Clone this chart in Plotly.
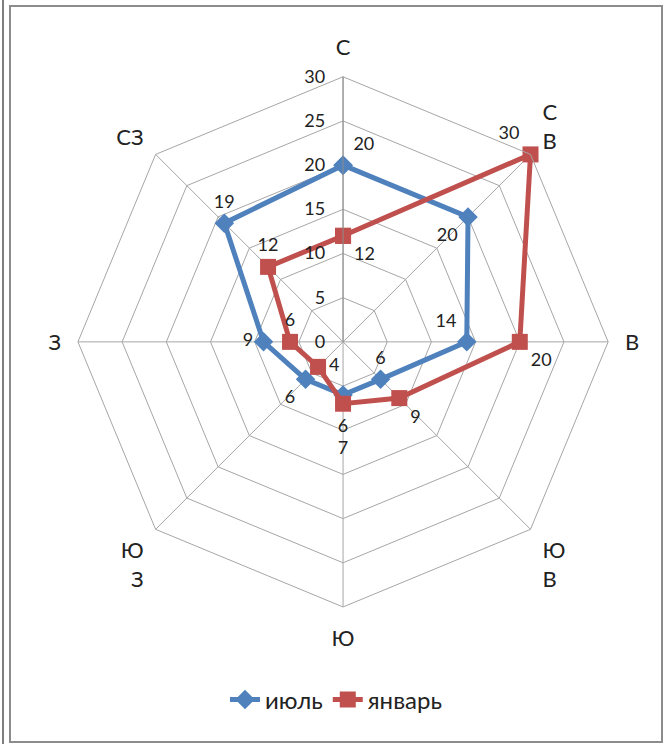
import plotly.graph_objects as go

# wind directions, clockwise from north
directions = ['С', 'СВ', 'В', 'ЮВ', 'Ю', 'ЮЗ', 'З', 'СЗ']
direction_labels = ['С', 'С<br>В', 'В', 'Ю<br>В', 'Ю', 'Ю<br>З', 'З', 'СЗ']

july = [20, 20, 14, 6, 6, 6, 9, 19]
january = [12, 30, 20, 9, 7, 4, 6, 12]

radial_ticks = [0, 5, 10, 15, 20, 25, 30]

july_pos = ['top right', 'bottom left', 'top left', 'top center',
            'bottom center', 'bottom left', 'middle left', 'top center']
jan_pos = ['bottom right', 'top left', 'bottom right', 'bottom right',
           'bottom center', 'middle right', 'top center', 'top center']

BLUE = '#4F81BD'
RED = '#C0504D'
FONT = 'Lato'
LABEL_FONT = dict(size=18, color='#222222', family=FONT)
SOUTH = directions.index('Ю')

# the two labels at the south point are stacked under the january square,
# they are drawn by label-only traces further down
july_text = [str(v) for v in july]
july_text[SOUTH] = ''
jan_text = [str(v) for v in january]
jan_text[SOUTH] = ''

fig = go.Figure()

fig.add_trace(go.Scatterpolar(
    r=july + [july[0]],
    theta=directions + [directions[0]],
    mode='lines+markers+text',
    name='июль',
    line=dict(color=BLUE, width=5),
    marker=dict(symbol='diamond', size=15, color=BLUE),
    text=july_text + [''],
    textposition=july_pos + ['top center'],
    textfont=LABEL_FONT,
))

fig.add_trace(go.Scatterpolar(
    r=january + [january[0]],
    theta=directions + [directions[0]],
    mode='lines+markers+text',
    name='январь',
    line=dict(color=RED, width=5),
    marker=dict(symbol='square', size=16, color=RED),
    text=jan_text + [''],
    textposition=jan_pos + ['top center'],
    textfont=LABEL_FONT,
))

for values, gap in [(july, 36), (january, 58)]:
    fig.add_trace(go.Scatterpolar(
        r=[values[SOUTH]],
        theta=[directions[SOUTH]],
        mode='markers+text',
        marker=dict(size=gap, opacity=0),
        text=[str(values[SOUTH])],
        textposition='bottom center',
        textfont=LABEL_FONT,
        showlegend=False,
        hoverinfo='skip',
    ))

fig.update_layout(
    width=672,
    height=744,
    margin=dict(l=0, r=0, t=0, b=0),
    paper_bgcolor='white',
    plot_bgcolor='white',
    font=dict(family=FONT, size=18, color='#222222'),
    polar=dict(
        domain=dict(x=[0.116, 0.905], y=[0.184, 0.897]),
        bgcolor='white',
        gridshape='linear',
        radialaxis=dict(
            range=[0, 30],
            tickvals=radial_ticks,
            angle=90,
            tickangle=90,
            side='counterclockwise',
            showline=True,
            linecolor='#8c8c8c',
            linewidth=1,
            gridcolor='#a6a6a6',
            gridwidth=1,
            ticks='outside',
            ticklen=11,
            tickcolor='rgba(0,0,0,0)',
            tickfont=dict(size=18, family=FONT),
        ),
        angularaxis=dict(
            direction='clockwise',
            rotation=90,
            categoryorder='array',
            categoryarray=directions,
            tickvals=directions,
            ticktext=direction_labels,
            showline=True,
            linecolor='#a6a6a6',
            gridcolor='#a6a6a6',
            ticks='outside',
            ticklen=12,
            tickcolor='rgba(0,0,0,0)',
            tickfont=dict(size=22, family=FONT),
        ),
    ),
    showlegend=True,
    legend=dict(
        orientation='h',
        x=0.5, xanchor='center',
        y=44/744, yanchor='middle',
        font=dict(size=24, family=FONT),
    ),
    shapes=[
        dict(type='rect', xref='paper', yref='paper', x0=10/672, x1=662/672,
             y0=2/744, y1=738/744, line=dict(color='#8c8c8c', width=2)),
        dict(type='line', xref='paper', yref='paper', x0=3/672, x1=3/672,
             y0=0, y1=1, line=dict(color='#7f7f7f', width=2)),
    ],
)

fig.write_html('out.html', config={'displayModeBar': False},
               post_script="document.body.style.margin='0';")
